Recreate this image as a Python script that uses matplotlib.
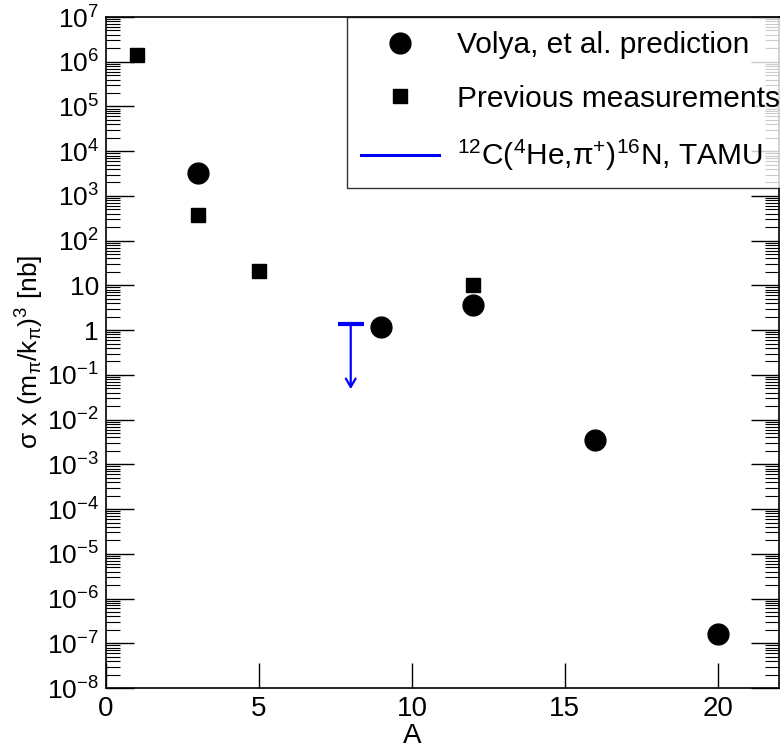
import matplotlib
matplotlib.use("Agg")
import matplotlib.pyplot as plt
from matplotlib.ticker import FixedLocator, FuncFormatter, LogLocator, NullFormatter
import numpy as np

plt.rcParams['font.family'] = ['Liberation Sans', 'DejaVu Sans']
plt.rcParams['mathtext.fontset'] = 'custom'
plt.rcParams['mathtext.rm'] = 'Liberation Sans'
plt.rcParams['mathtext.it'] = 'Liberation Sans'
plt.rcParams['mathtext.sf'] = 'Liberation Sans'

# Data
volya_A = [3, 9, 12, 16, 20]
volya_sigma = [3200, 1.2, 3.6, 3.5e-3, 1.6e-7]
prev_A = [1, 3, 5, 12]
prev_sigma = [1.4e6, 370, 21, 10]
tamu_A = 8
tamu_limit = 1.4
tamu_arrow_end = 0.048

labels = ['Volya, et al. prediction', 'Previous measurements',
          '$^{12}$C($^{4}$He,π$^{+}$)$^{16}$N, TAMU']

fig = plt.figure(figsize=(7.8, 7.5), dpi=100)
ax = fig.add_axes([106/780, 1-688/750, 673/780, 671/750])

h1, = ax.plot(volya_A, volya_sigma, 'o', color='black', markersize=15, linestyle='none')
h2, = ax.plot(prev_A, prev_sigma, 's', color='black', markersize=10, linestyle='none')
ax.hlines(tamu_limit, tamu_A - 0.42, tamu_A + 0.42, color='#0000ff', lw=3)
ax.annotate('', xy=(tamu_A, tamu_arrow_end), xytext=(tamu_A, tamu_limit),
            arrowprops=dict(arrowstyle='->,head_length=0.6,head_width=0.35', color='#0000ff', lw=1.6,
                            shrinkA=0, shrinkB=0))
h3, = ax.plot([], [], '-', color='#0000ff', lw=2.2)

ax.set_yscale('log')
ax.set_xlim(0, 22)
ax.set_ylim(1e-8, 1e7)

def yfmt(v, pos):
    e = int(round(np.log10(v)))
    if e == 1:
        return '10'
    if e == 0:
        return '1'
    return r'$10^{%s}$' % (str(e).replace('-', '\u2212'))

ax.yaxis.set_major_locator(FixedLocator([10.0**e for e in range(-8, 8)]))
ax.yaxis.set_major_formatter(FuncFormatter(yfmt))
ax.yaxis.set_minor_locator(LogLocator(base=10, subs=np.arange(2, 10), numticks=100))
ax.yaxis.set_minor_formatter(NullFormatter())
ax.set_xticks([0, 5, 10, 15, 20])

ax.tick_params(axis='y', which='major', direction='in', length=20, width=1, left=True, right=True,
               labelsize=19, pad=5)
ax.tick_params(axis='y', which='minor', direction='in', length=10, width=0.8, left=True, right=True)
ax.tick_params(axis='x', which='major', direction='in', length=18, width=1, top=False, bottom=True,
               labelsize=20, pad=6)
ax.tick_params(axis='x', which='minor', bottom=False, top=False)

for s in ax.spines.values():
    s.set_linewidth(1.2)

ax.set_xlabel('A', fontsize=20, va='center')
ax.xaxis.set_label_coords((412-106)/673, (688-736)/671)
ax.set_ylabel('σ x (m$_{π}$/k$_{π}$)$^{3}$ [nb]', fontsize=19, va='center')
ax.yaxis.set_label_coords((30-106)/673, (688-352)/671)

leg = ax.legend([h1, h2, h3], labels, loc='upper left', bbox_to_anchor=((347-106)/673, 1.0),
                fontsize=21.5, frameon=True,
                fancybox=False, edgecolor='black', borderaxespad=0, handlelength=2.6,
                labelspacing=0.85, borderpad=0.48, handletextpad=0.6, markerscale=1.0)
leg.get_frame().set_linewidth(1.0)

fig.savefig('out.png', dpi=100)
